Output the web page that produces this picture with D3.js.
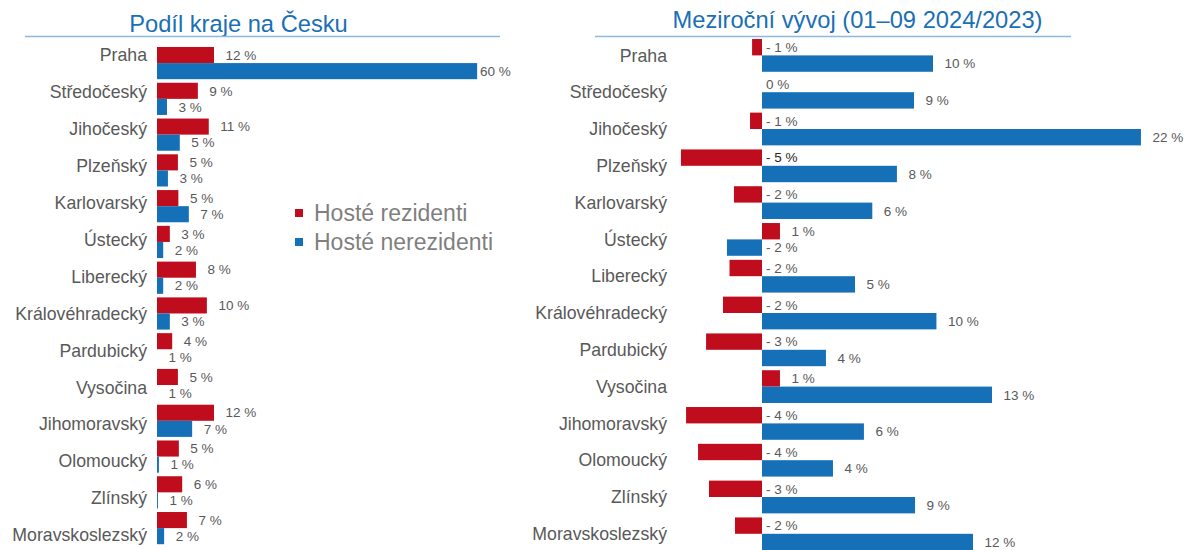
<!DOCTYPE html>
<html>
<head>
<meta charset="utf-8">
<script src="https://cdn.jsdelivr.net/npm/d3@7"></script>
<style>
  body { margin: 0; background: #fff; }
  text { font-family: "Liberation Sans", Arial, sans-serif; }
</style>
</head>
<body>
<script>
const WIDTH = 1202;
const HEIGHT = 550;
const RED = "#c00d1e";
const BLUE = "#1570b7";
const TITLE_BLUE = "#1a6fb5";
const RULE = "#8cb9de";
const GREY = "#595959";
const DARK_LABEL = "Plzeňský";

const REGIONS = ["Praha", "Středočeský", "Jihočeský", "Plzeňský", "Karlovarský", "Ústecký", "Liberecký",
  "Královéhradecký", "Pardubický", "Vysočina", "Jihomoravský", "Olomoucký", "Zlínský", "Moravskoslezský"];
const SERIES = ["Hosté rezidenti", "Hosté nerezidenti"];

// podíl kraje (delka sloupce) + popisky jak jsou v grafu
const SHARE_RESIDENT = [12.0, 8.6, 10.9, 4.4, 4.5, 2.7, 8.2, 10.5, 3.2, 4.4, 12.0, 4.6, 5.3, 6.3];
const SHARE_NONRESIDENT = [67.4, 2.1, 4.8, 2.3, 6.7, 1.3, 1.3, 2.7, 0, 0, 7.4, 0.4, 0.2, 1.5];
const SHARE_RESIDENT_LABELS = ["12 %", "9 %", "11 %", "5 %", "5 %", "3 %", "8 %", "10 %", "4 %", "5 %", "12 %", "5 %", "6 %", "7 %"];
const SHARE_NONRESIDENT_LABELS = ["60 %", "3 %", "5 %", "3 %", "7 %", "2 %", "2 %", "3 %", "1 %", "1 %", "7 %", "1 %", "1 %", "2 %"];

// mezirocni vyvoj v %
const YOY_RESIDENT = [-0.58, 0, -0.7, -4.74, -1.64, 1.05, -1.9, -2.28, -3.27, 1.05, -4.44, -3.74, -3.1, -1.58];
const YOY_NONRESIDENT = [10.0, 8.89, 22.16, 7.89, 6.45, -2.05, 5.44, 10.2, 3.74, 13.45, 5.96, 4.15, 8.95, 12.34];

const svg = d3.select("body").append("svg")
  .attr("width", WIDTH).attr("height", HEIGHT)
  .style("background", "#fff");

const fmt = v => {
  const r = Math.round(v);
  return r < 0 ? "- " + Math.abs(r) + " %" : r + " %";
};

const title = (text, x, y, x1, x2) => {
  svg.append("text")
    .attr("x", x).attr("y", y)
    .attr("text-anchor", "middle")
    .attr("fill", TITLE_BLUE)
    .style("font-size", "23.7px")
    .text(text);
  svg.append("line")
    .attr("x1", x1).attr("x2", x2)
    .attr("y1", 36.5).attr("y2", 36.5)
    .attr("stroke", RULE).attr("stroke-width", 1.6);
};

const categoryLabels = (x, yPos) => {
  svg.append("g").selectAll("text")
    .data(REGIONS)
    .enter().append("text")
    .attr("x", x)
    .attr("y", d => yPos(d))
    .attr("dy", "0.35em")
    .attr("text-anchor", "end")
    .attr("fill", GREY)
    .style("font-size", "17.7px")
    .text(d => d);
};

// ---- levy graf: podil kraje na Cesku
const leftChart = () => {
  const x = d3.scaleLinear().domain([0, 60]).range([157, 442]);
  const y = d3.scaleBand().domain(REGIONS).range([45.2, 546]).paddingInner(0.1).paddingOuter(0.05);
  const yLabel = d3.scalePoint().domain(REGIONS).range([55, 535]);
  const h = y.bandwidth() / 2;

  title("Podíl kraje na Česku", 238.5, 32, 25, 500);
  categoryLabels(147, yLabel);

  const rows = REGIONS.map((r, i) => ({
    region: r,
    res: SHARE_RESIDENT[i], nonres: SHARE_NONRESIDENT[i],
    resLabel: SHARE_RESIDENT_LABELS[i], nonresLabel: SHARE_NONRESIDENT_LABELS[i]
  }));

  const g = svg.append("g");
  g.selectAll(".res").data(rows).enter().append("rect")
    .attr("x", x(0)).attr("y", d => y(d.region))
    .attr("width", d => x(d.res) - x(0)).attr("height", h)
    .attr("fill", RED);
  g.selectAll(".nonres").data(rows).enter().append("rect")
    .attr("x", x(0)).attr("y", d => y(d.region) + h)
    .attr("width", d => x(d.nonres) - x(0)).attr("height", h)
    .attr("fill", BLUE);

  g.selectAll(".resLbl").data(rows).enter().append("text")
    .attr("x", d => Math.min(x(d.res) + 11.5, 480))
    .attr("y", d => y(d.region) + h / 2)
    .attr("dy", "0.35em").attr("fill", GREY)
    .style("font-size", "13.5px")
    .text(d => d.resLabel);
  g.selectAll(".nonresLbl").data(rows).enter().append("text")
    .attr("x", d => Math.min(x(d.nonres) + 11.5, 480))
    .attr("y", d => y(d.region) + h * 1.5)
    .attr("dy", "0.35em").attr("fill", GREY)
    .style("font-size", "13.5px")
    .text(d => d.nonresLabel);

  // legenda
  const colors = [RED, BLUE];
  const lg = svg.append("g").attr("transform", "translate(295, 213)");
  SERIES.forEach((s, i) => {
    lg.append("rect").attr("x", 0).attr("y", i * 29 - 4).attr("width", 8).attr("height", 8).attr("fill", colors[i]);
    lg.append("text").attr("x", 19).attr("y", i * 29).attr("dy", "0.35em")
      .attr("fill", "#7f7f7f").style("font-size", "23px").text(s);
  });
};

// ---- pravy graf: mezirocni vyvoj
const rightChart = () => {
  const x = d3.scaleLinear().domain([-5, 25]).range([762 - 5 * 17.1, 762 + 25 * 17.1]);
  const y = d3.scaleBand().domain(REGIONS).range([37, 552.2]).paddingInner(0.11).paddingOuter(0.055);
  const h = y.bandwidth() / 2;

  title("Meziroční vývoj (01–09 2024/2023)", 857.5, 27.5, 595, 1071);
  categoryLabels(667, d => y(d) + h);

  const rows = REGIONS.map((r, i) => ({ region: r, res: YOY_RESIDENT[i], nonres: YOY_NONRESIDENT[i] }));
  const g = svg.append("g");

  const bars = (key, off, color) => {
    g.selectAll("." + key).data(rows).enter().append("rect")
      .attr("x", d => x(Math.min(0, d[key])))
      .attr("y", d => y(d.region) + off)
      .attr("width", d => Math.abs(x(d[key]) - x(0)))
      .attr("height", h)
      .attr("fill", color);
    g.selectAll("." + key + "Lbl").data(rows).enter().append("text")
      .attr("x", d => d[key] > 0 ? x(d[key]) + 11.5 : x(0) + 4)
      .attr("y", d => y(d.region) + off + h / 2)
      .attr("dy", "0.35em")
      .attr("fill", d => key === "res" && d.region === DARK_LABEL ? "#262626" : GREY)
      .style("font-size", "13.5px")
      .text(d => fmt(d[key]));
  };
  bars("res", 0, RED);
  bars("nonres", h, BLUE);
};

leftChart();
rightChart();
</script>
</body>
</html>
